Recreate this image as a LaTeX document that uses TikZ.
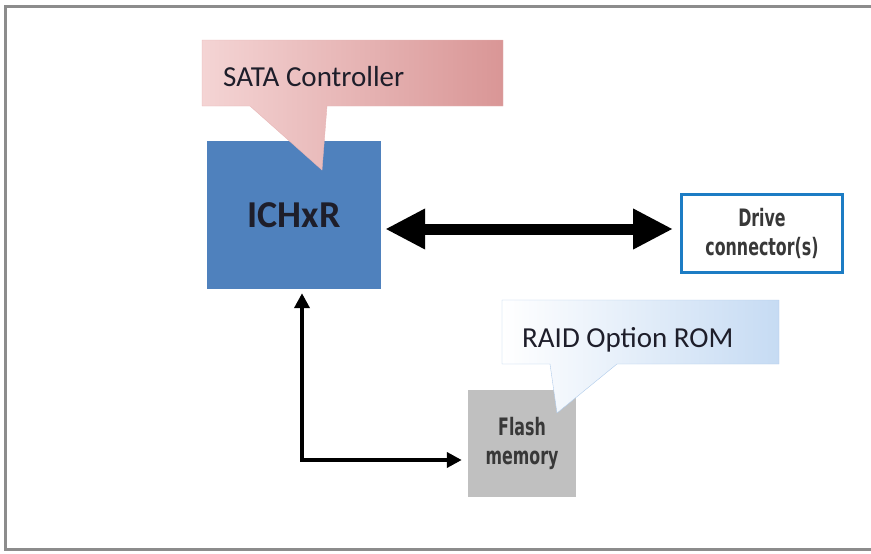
\documentclass[tikz,border=0pt]{standalone}
\usepackage{fontspec}
\setmainfont{Carlito}
\newfontfamily\narrowfont[FakeStretch=0.66]{DejaVu Sans}
\usetikzlibrary{arrows.meta,positioning}
\definecolor{chipblue}{HTML}{4F81BD}
\definecolor{portblue}{HTML}{1C7CC4}
\definecolor{flashgray}{HTML}{C0C0C0}
\definecolor{pinklight}{HTML}{F4D4D4}
\definecolor{pinkdark}{HTML}{D99696}
\definecolor{pinkedge}{HTML}{E6B4B4}
\definecolor{skylight}{HTML}{FFFFFF}
\definecolor{skydark}{HTML}{C6DBF3}
\definecolor{skyedge}{HTML}{AFCBEA}
\definecolor{inkdark}{HTML}{1E1E2A}

\begin{document}
\begin{tikzpicture}[x=1pt, y=-1pt,
    chip/.style={fill=chipblue, minimum width=174pt, minimum height=148pt, inner sep=0pt,
        font=\fontsize{38}{44}\selectfont\bfseries, text=inkdark},
    port/.style={draw=portblue, line width=3pt, fill=white, minimum width=161pt, minimum height=78pt,
        inner sep=0pt, align=center, font=\narrowfont\fontsize{24}{29}\selectfont\bfseries, text=black!78},
    memory/.style={fill=flashgray, minimum width=108pt, minimum height=107pt, inner sep=0pt,
        align=center, font=\narrowfont\fontsize{24}{29}\selectfont\bfseries, text=black!78},
    note/.style={anchor=base west, inner sep=0pt, font=\fontsize{29}{34}\selectfont, text=inkdark},
    frame/.style={draw=black!45, line width=3pt},
    bus/.style={{Triangle[length=40pt,width=38pt]}-{Triangle[length=40pt,width=38pt]}, line width=11pt},
    link/.style={{Triangle[length=15pt,width=15pt]}-{Triangle[length=15pt,width=15pt]}, line width=4.5pt}]
    \useasboundingbox (0,0) rectangle (871,554);
    \draw[frame] (880,6) -- (5,6) -- (5,549) -- (880,549);
    % Blocks (controller, drive port, flash)
    \node[chip] (ichxr) at (294,215) {ICHxR};
    \node[port] (drive) at (762,233.5) {Drive\\connector(s)};
    \node[memory] (flash) at (522,443.5) {Flash\\memory};
    % Callouts
    \path[draw=pinkedge, left color=pinklight, right color=pinkdark]
        (202,40) -- (503,40) -- (503,106) -- (327,106) -- (322,170) -- (250,106) -- (202,106) -- cycle;
    \node[note] (sata) at (223,86) {SATA Controller};
    \path[draw=skyedge, left color=skylight, right color=skydark]
        (502,300) -- (779,300) -- (779,364) -- (617,364) -- (557,413) -- (550,364) -- (502,364) -- cycle;
    \node[note] (raid) at (522,347) {RAID Option ROM};
    % Connectors
    \draw[bus, shorten <=4pt, shorten >=7pt] ([yshift=4.5pt]ichxr.east |- drive.west) -- ([yshift=4.5pt]drive.west);
    \coordinate (bend) at (302,460);
    \draw[link, shorten <=4pt, shorten >=6pt] (ichxr.south -| bend) -- (bend) -- (flash.west |- bend);
\end{tikzpicture}
\end{document}
